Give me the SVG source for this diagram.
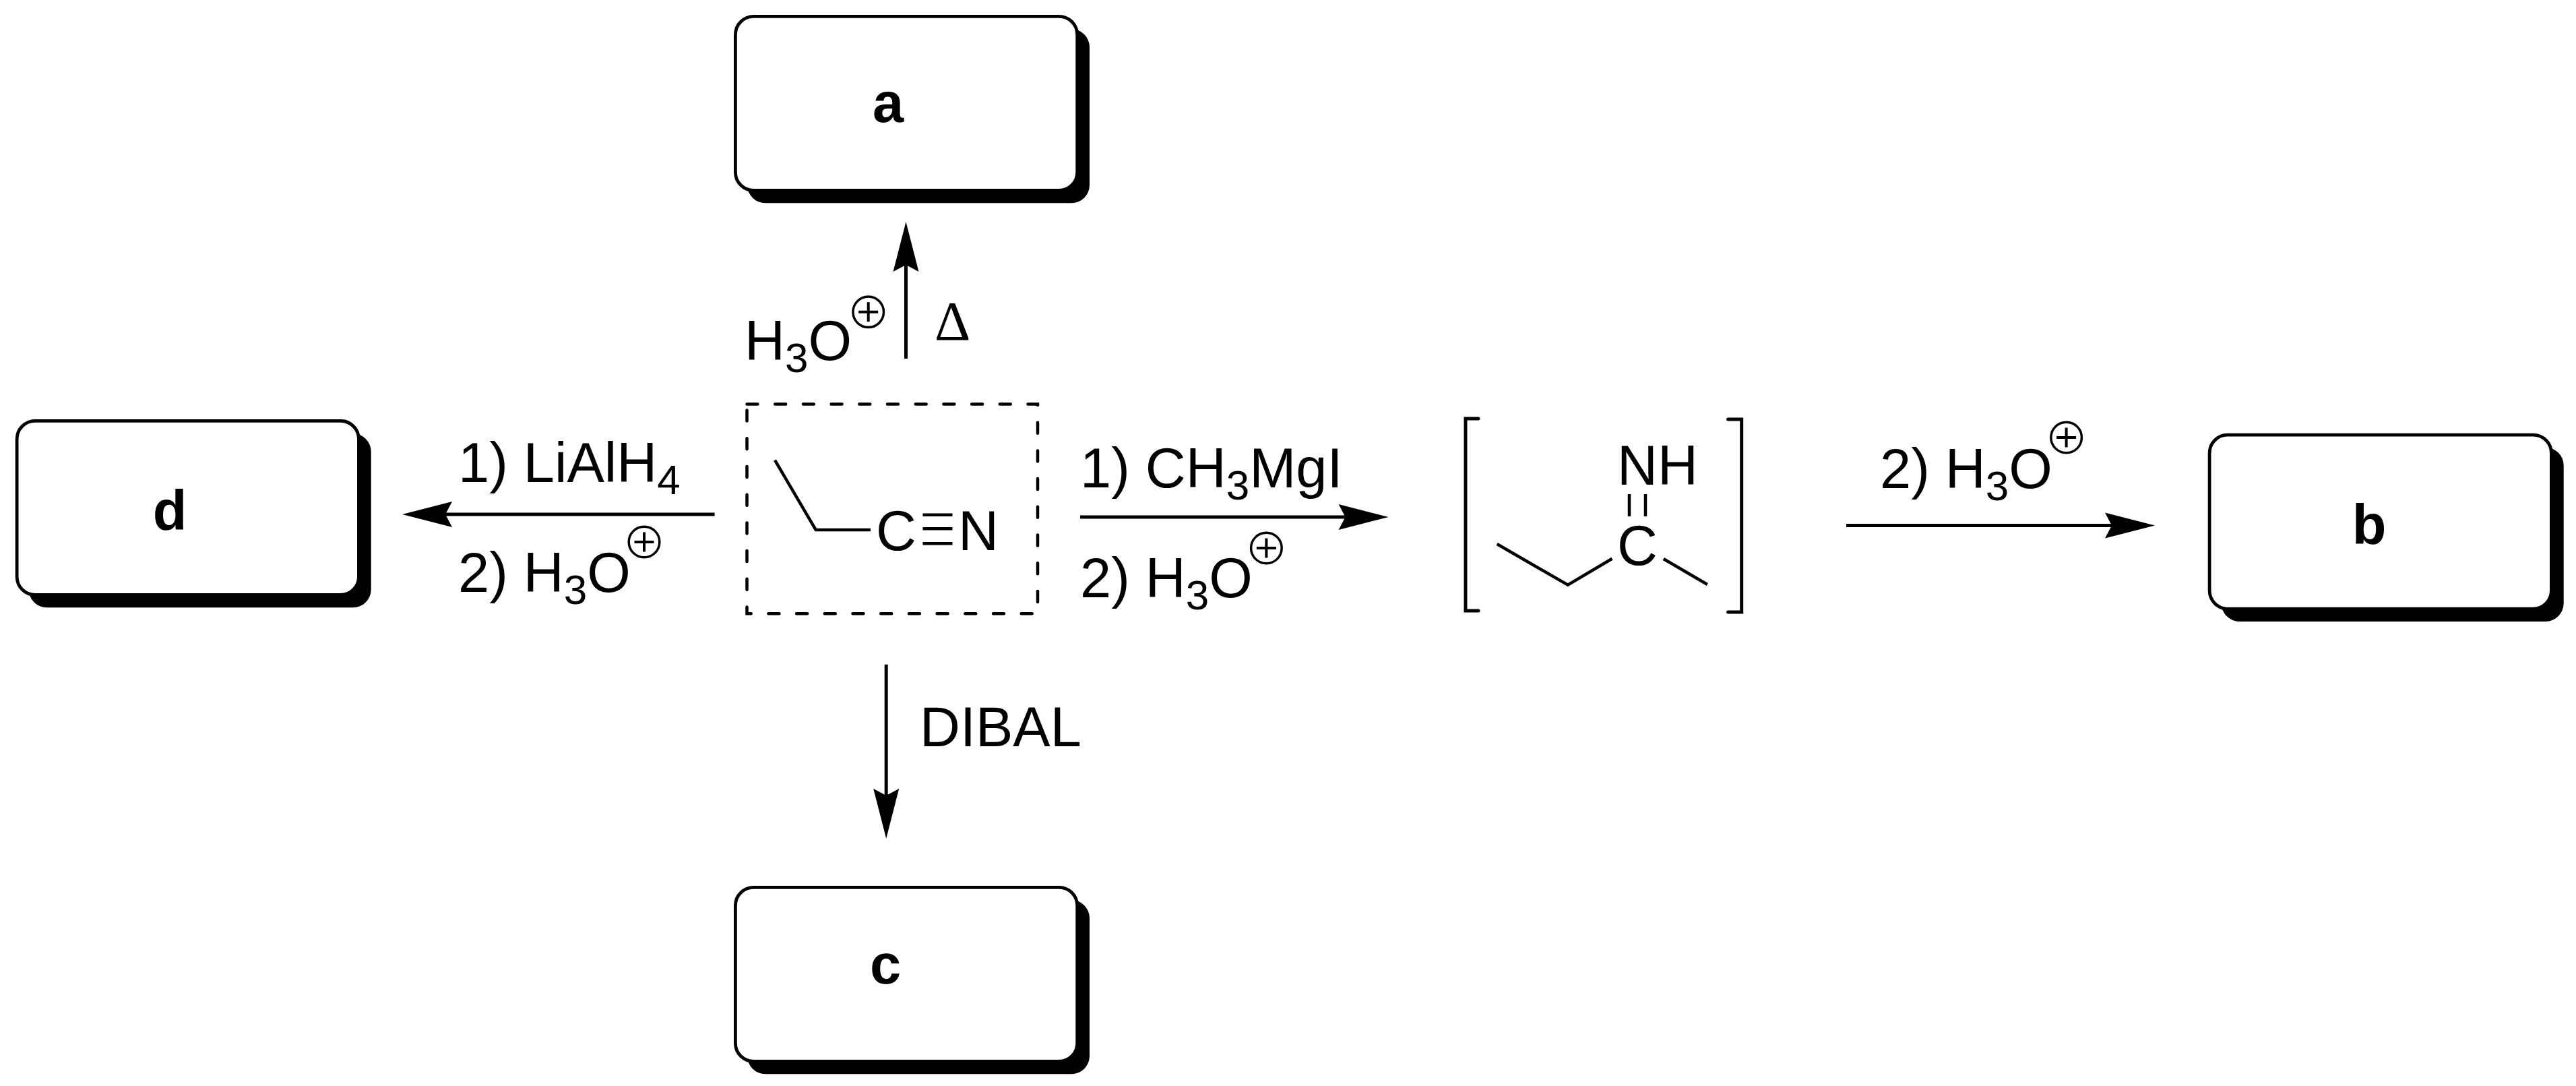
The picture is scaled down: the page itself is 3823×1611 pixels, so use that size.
<svg xmlns="http://www.w3.org/2000/svg" xmlns:xlink="http://www.w3.org/1999/xlink" width="3823" height="1611" viewBox="0 0 3823 1611">
<style>
text{font-family:"Liberation Sans",Arial,sans-serif;font-size:83px;fill:#000}
.lab{font-weight:700;text-anchor:middle}
.sub{font-size:62px}
.delta{font-family:"Liberation Serif","Times New Roman",serif}
.shadow{fill:#000;stroke:none}
.card{fill:#fff;stroke:#000;stroke-width:4.8}
.bond{fill:none;stroke:#000;stroke-width:4.5;stroke-linecap:butt;stroke-linejoin:miter}
.bracket{fill:none;stroke:#000;stroke-width:5;stroke-linecap:round;stroke-linejoin:miter}
.arrow{fill:none;stroke:#000;stroke-width:5}
.dash{fill:none;stroke:#000;stroke-width:4.5;stroke-linecap:round;stroke-dasharray:16 25.7}
.ring{fill:none;stroke:#000;stroke-width:3.5}
.plus{fill:none;stroke:#000;stroke-width:4}
</style>
<defs>
<marker id="head" markerUnits="userSpaceOnUse" markerWidth="76" markerHeight="40" viewBox="0 0 76 40" refX="10" refY="20" orient="auto" overflow="visible">
<path d="M0 1 L74 20 L0 39 L10 20 Z" fill="#000"/>
</marker>
<g id="oplus"><circle cx="0" cy="0" r="22.8" class="ring"/><path d="M-14.5 0H14.5M0-14.5V14.5" class="plus"/></g>
</defs>
<rect width="3823" height="1611" fill="#fff"/>
<g id="connectors">
<path id="to-a" class="arrow" d="M1344.5 532V393" marker-end="url(#head)"/>
<path id="to-d" class="arrow" d="M1060.6 763H661" marker-end="url(#head)"/>
<path id="to-imine" class="arrow" d="M1603 767H1996.6" marker-end="url(#head)"/>
<path id="to-b" class="arrow" d="M2740 779.5H3134" marker-end="url(#head)"/>
<path id="to-c" class="arrow" d="M1315.2 985.7V1180" marker-end="url(#head)"/>
</g>
<g id="node-a">
<rect class="shadow" x="1109" y="43" width="508" height="258.3" rx="27"/>
<rect class="card" x="1091.4" y="24.4" width="507.3" height="258" rx="27"/>
<text class="lab" x="1318" y="181">a</text>
</g>
<g id="node-c">
<rect class="shadow" x="1109" y="1335" width="508" height="258.3" rx="27"/>
<rect class="card" x="1091.4" y="1316.4" width="507.3" height="258" rx="27"/>
<text class="lab" x="1314" y="1459">c</text>
</g>
<g id="node-d">
<rect class="shadow" x="42.7" y="643" width="508" height="258.3" rx="27"/>
<rect class="card" x="25.1" y="624.4" width="507.3" height="258" rx="27"/>
<text class="lab" x="252" y="785.7">d</text>
</g>
<g id="node-b">
<rect class="shadow" x="3296.7" y="663.7" width="508" height="258.3" rx="27"/>
<rect class="card" x="3279.1" y="645.1" width="507.3" height="258" rx="27"/>
<text class="lab" x="3516" y="806.7">b</text>
</g>
<g id="node-nitrile">
<path class="dash" d="M1108.5 599.5H1540V910.3H1108.5Z"/>
<path class="bond" d="M1150 682.7L1210.7 786H1292"/>
<text x="1300" y="816">C</text>
<path class="bond" d="M1369.5 763.7H1413.5M1369.5 784.3H1413.5M1369.5 806.3H1413.5"/>
<text x="1422" y="816">N</text>
</g>
<g id="node-imine">
<path class="bracket" d="M2194 621H2175V906H2194"/>
<path class="bracket" d="M2564.6 622H2584.7V908H2564.6"/>
<text x="2400" y="719">NH</text>
<path class="bond" d="M2418 733V766M2442 733V766"/>
<text x="2400" y="838">C</text>
<path class="bond" d="M2221.7 807L2326.8 867.7L2392.5 828.7"/>
<path class="bond" d="M2468.8 829L2533.8 867"/>
</g>
<g id="label-a">
<text x="1105" y="533.5">H<tspan class="sub" dy="18">3</tspan><tspan dy="-18">O</tspan></text>
<use href="#oplus" xlink:href="#oplus" x="1288.7" y="462.8"/>
<text class="delta" x="1387" y="504">Δ</text>
</g>
<g id="label-d">
<text x="680" y="715">1) LiAlH<tspan class="sub" dy="18">4</tspan></text>
<text x="680" y="878">2) H<tspan class="sub" dy="18">3</tspan><tspan dy="-18">O</tspan></text>
<use href="#oplus" xlink:href="#oplus" x="956" y="804"/>
</g>
<g id="label-imine">
<text x="1603" y="723">1) CH<tspan class="sub" dy="18">3</tspan><tspan dy="-18">MgI</tspan></text>
<text x="1603" y="886">2) H<tspan class="sub" dy="18">3</tspan><tspan dy="-18">O</tspan></text>
<use href="#oplus" xlink:href="#oplus" x="1879.4" y="813"/>
</g>
<g id="label-b">
<text x="2790" y="724">2) H<tspan class="sub" dy="18">3</tspan><tspan dy="-18">O</tspan></text>
<use href="#oplus" xlink:href="#oplus" x="3066.6" y="649"/>
</g>
<g id="label-c">
<text x="1365" y="1106.6">DIBAL</text>
</g>
</svg>
